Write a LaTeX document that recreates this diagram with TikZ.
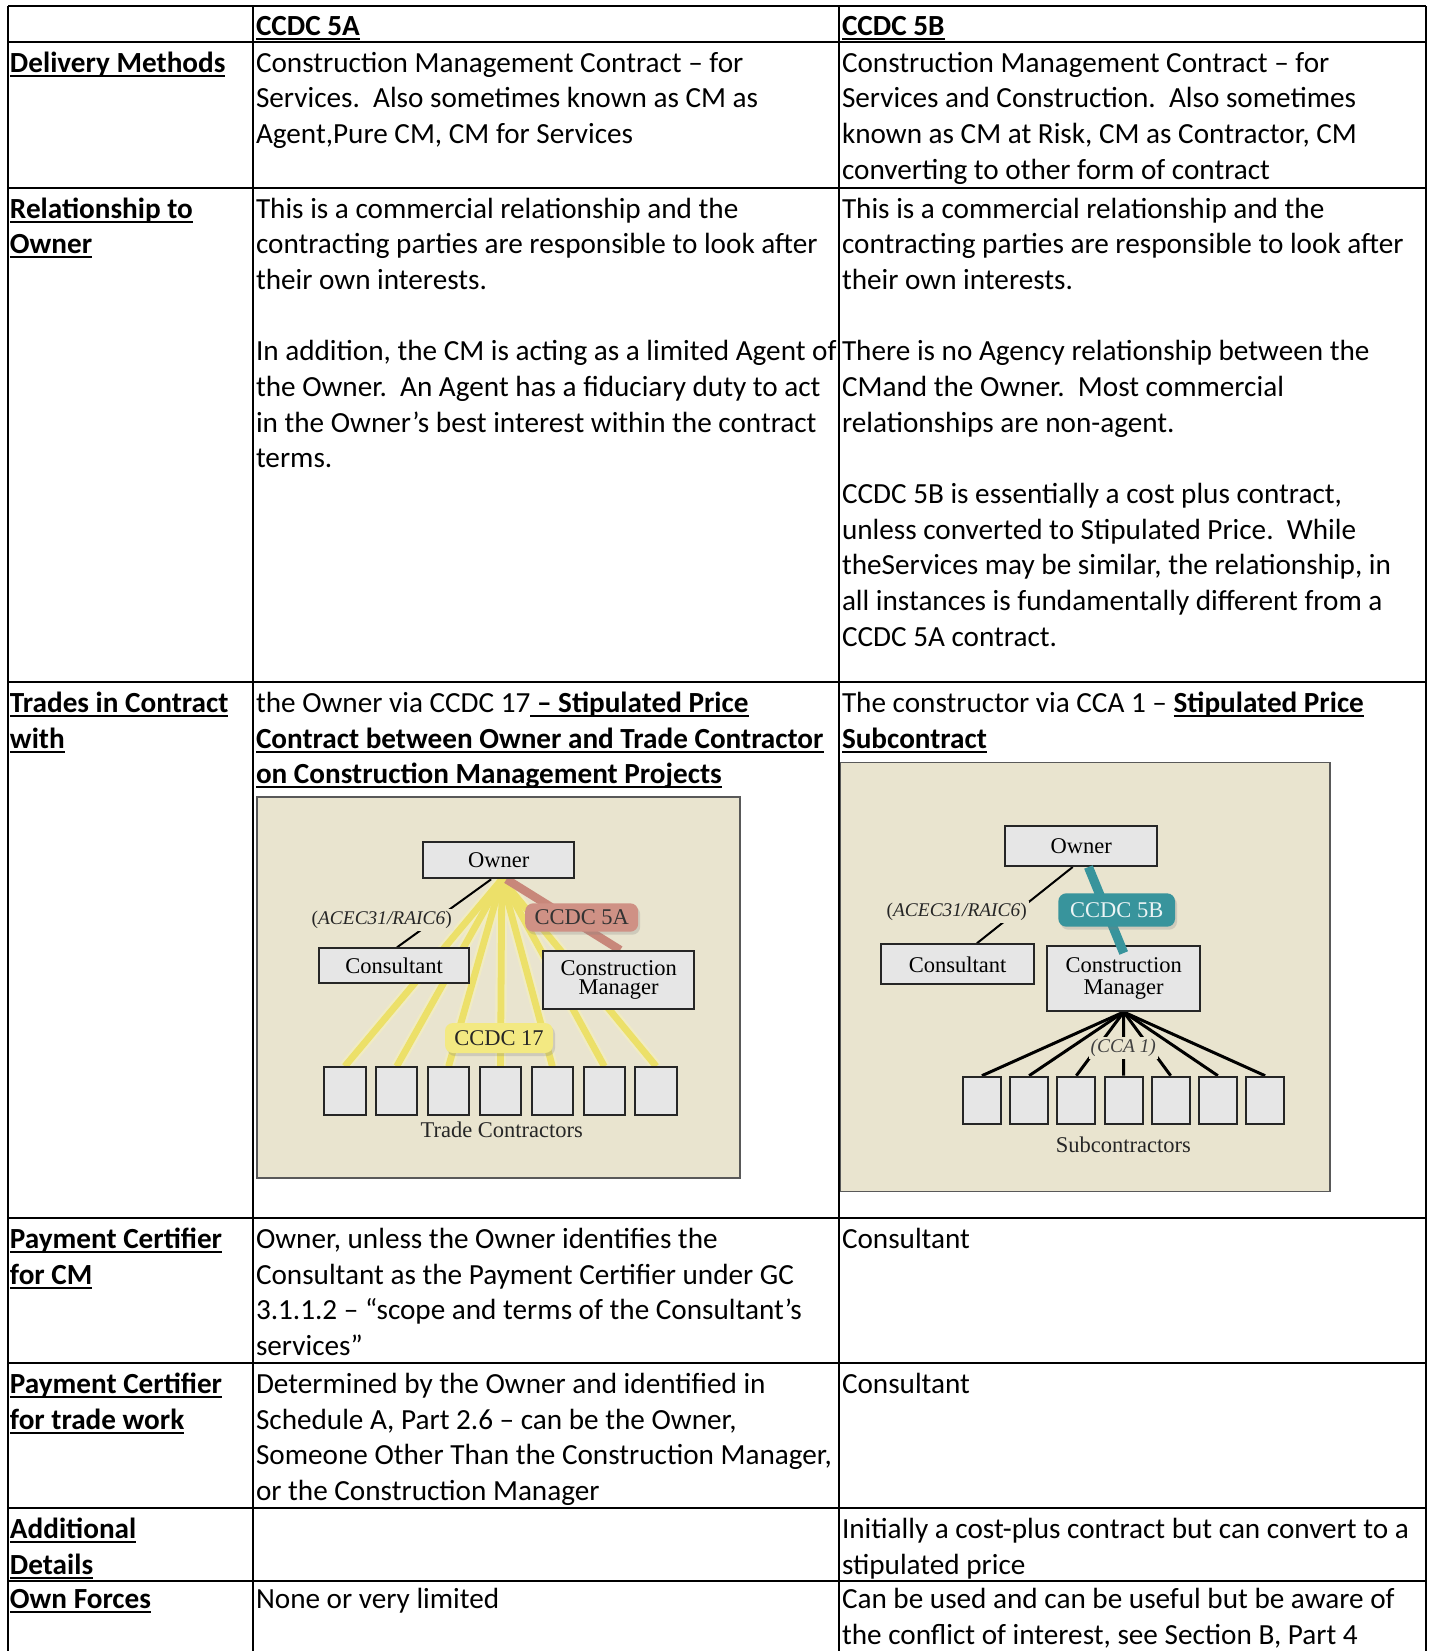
\documentclass[tikz,border=0pt]{standalone}
\usepackage{fontspec}
\setmainfont{Carlito}
\newfontfamily\tms{Liberation Serif}
\usetikzlibrary{calc,shadows}
\pgfdeclarelayer{bg}
\pgfdeclarelayer{lines}
\pgfsetlayers{bg,lines,main}
\definecolor{beige}{RGB}{233,228,207}
\definecolor{boxgray}{RGB}{230,230,230}
\definecolor{yellowln}{RGB}{236,224,105}
\definecolor{yellowlab}{RGB}{243,233,130}
\definecolor{pinkln}{RGB}{200,135,122}
\definecolor{pinklab}{RGB}{207,145,133}
\definecolor{tealc}{RGB}{56,148,156}
\newcommand\ulbox[1]{\setbox0\hbox{#1}\rlap{\rule[-2.2pt]{\wd0}{0.9pt}}\box0}
\newcommand\bul[1]{{\bfseries\ulbox{#1}}}
\newcommand\cellrows[4]{\foreach \lt [count=\k from 0] in {#4}{\node[txt] (#1\k) at (#2,{#3+2+\k*35.65}) {\lt};}}
\begin{document}
\begin{tikzpicture}[x=0.5pt,y=-0.5pt,
  txt/.style={anchor=base west, inner sep=0pt, outer sep=0pt, font=\fontsize{14.6}{17.8}\selectfont},
  tline/.style={line width=1.1pt, black},
  frame/.style={draw=black!65, line width=0.7pt, fill=beige},
  dbox/.style={draw=black!85, line width=1pt, fill=boxgray, inner sep=0pt, align=center, font=\tms\fontsize{11.25}{9.8}\selectfont},
  dlab/.style={inner sep=1pt, fill=beige, text=black!85, font=\tms\fontsize{9.7}{11}\selectfont},
  dtxt/.style={inner sep=0pt, text=black!85, font=\tms\fontsize{11.25}{12}\selectfont},
  tag/.style={rounded corners=4pt, inner sep=0pt, font=\tms\fontsize{11.25}{12}\selectfont, drop shadow={opacity=0.25, shadow xshift=1pt, shadow yshift=-1.5pt}},
  yline/.style={line width=3.4pt, yellowln},
  yglow/.style={line width=5.6pt, yellowln!45, opacity=0.6},
  pline/.style={line width=4.2pt, pinkln},
  thinl/.style={line width=1pt, black},
  subl/.style={line width=1.5pt, black}]
\useasboundingbox (0,0) rectangle (1433,1651);

% ---------- table grid ----------
\foreach \yy in {6,41.7,187.7,682,1218,1363,1508,1581}
  \draw[tline] (8,\yy) -- (1426,\yy);
\foreach \xx in {8,253,839,1426}
  \draw[tline] (\xx,6) -- (\xx,1651);

% ---------- header ----------
\node[txt] (h1) at (256,35.5) {\bul{CCDC 5A}};
\node[txt] (h2) at (842,35.5) {\bul{CCDC 5B}};

% ---------- Delivery Methods ----------
\cellrows{da}{10}{70.2}{{\bul{Delivery Methods}}}
\cellrows{db}{256}{70.2}{{Construction Management Contract – for},{Services.\ \ Also sometimes known as CM as},{Agent,Pure CM, CM for Services}}
\cellrows{dc}{842}{70.2}{{Construction Management Contract – for},{Services and Construction.\ \ Also sometimes},{known as CM at Risk, CM as Contractor, CM},{converting to other form of contract}}

% ---------- Relationship ----------
\cellrows{ra}{10}{216.2}{{\bul{Relationship to}},{\bul{Owner}}}
\cellrows{rb}{256}{216.2}{{This is a commercial relationship and the},{contracting parties are responsible to look after},{their own interests.}}
\cellrows{rbb}{256}{358.8}{{In addition, the CM is acting as a limited Agent of},{the Owner.\ \ An Agent has a fiduciary duty to act},{in the Owner’s best interest within the contract},{terms.}}
\cellrows{rc}{842}{216.2}{{This is a commercial relationship and the},{contracting parties are responsible to look after},{their own interests.}}
\cellrows{rcb}{842}{358.8}{{There is no Agency relationship between the},{CMand the Owner.\ \ Most commercial},{relationships are non-agent.}}
\cellrows{rcc}{842}{501.4}{{CCDC 5B is essentially a cost plus contract,},{unless converted to Stipulated Price.\ \ While},{theServices may be similar, the relationship, in},{all instances is fundamentally different from a},{CCDC 5A contract.}}

% ---------- Trades ----------
\cellrows{ta}{10}{710.5}{{\bul{Trades in Contract}},{\bul{with}}}
\cellrows{tb}{256}{710.5}{{the Owner via CCDC 17\bul{\ – Stipulated Price}},{\bul{Contract between Owner and Trade Contractor}},{\bul{on Construction Management Projects}}}
\cellrows{tcx}{842}{710.5}{{The constructor via CCA 1 – \bul{Stipulated Price}},{\bul{Subcontract}}}

% ---------- Payment certifier CM ----------
\cellrows{pa}{10}{1246.5}{{\bul{Payment Certifier}},{\bul{for CM}}}
\cellrows{pb}{256}{1246.5}{{Owner, unless the Owner identifies the},{Consultant as the Payment Certifier under GC},{3.1.1.2 – “scope and terms of the Consultant’s},{services”}}
\cellrows{pc}{842}{1246.5}{{Consultant}}

% ---------- Payment certifier trade ----------
\cellrows{qa}{10}{1391.5}{{\bul{Payment Certifier}},{\bul{for trade work}}}
\cellrows{qb}{256}{1391.5}{{Determined by the Owner and identified in},{Schedule A, Part 2.6 – can be the Owner,},{Someone Other Than the Construction Manager,},{or the Construction Manager}}
\cellrows{qc}{842}{1391.5}{{Consultant}}

% ---------- Additional ----------
\cellrows{aa}{10}{1536.5}{{\bul{Additional}},{\bul{Details}}}
\cellrows{ac}{842}{1536.5}{{Initially a cost-plus contract but can convert to a},{stipulated price}}

% ---------- Own forces ----------
\cellrows{oa}{10}{1606.5}{{\bul{Own Forces}}}
\cellrows{ob}{256}{1606.5}{{None or very limited}}
\cellrows{oc}{842}{1606.5}{{Can be used and can be useful but be aware of},{the conflict of interest, see Section B, Part 4}}

% ---------- diagram frames ----------
\begin{pgfonlayer}{bg}
\draw[frame] (257,797) rectangle (740,1178);
\draw[frame] (840,762.3) rectangle (1330,1191.7);
\end{pgfonlayer}

% ---------- diagram 1 (CCDC 5A) ----------
\node[dbox, minimum width=75.5pt, minimum height=18pt] (own1) at (498.8,860.3) {Owner};
\node[dbox, minimum width=75.3pt, minimum height=17.5pt] (con1) at (394,965.8) {Consultant};
\node[dbox, minimum width=75.35pt, minimum height=29pt] (cm1) at (618.7,980) {Construction\\Manager};
\foreach \i in {0,...,6}
  \node[dbox, minimum width=20.75pt, minimum height=23.85pt] (tc\i) at ({344.8+\i*51.9},1091.2) {};
\node[dtxt] (tcl) at (501.7,1130) {Trade Contractors};
\begin{pgfonlayer}{lines}
\draw[thinl] ($(own1.south west)!0.45!(own1.south east)$) -- ($(con1.north west)!0.52!(con1.north east)$);
\foreach \i in {0,...,6}
  \draw[yglow] ($(own1.south west)!0.52!(own1.south east)$) -- (tc\i.north);
\foreach \i in {0,...,6}
  \draw[yline] ($(own1.south west)!0.52!(own1.south east)$) -- (tc\i.north);
\draw[pline] ($(own1.south west)!0.55!(own1.south east)$) -- ($(cm1.north west)!0.51!(cm1.north east)$);
\end{pgfonlayer}
\node[dlab] (acec1) at (381.7,920) {(\textit{ACEC31/RAIC6})};
\node[tag, fill=pinklab, text=black!80, minimum width=56.5pt, minimum height=14.2pt] (t5a) at (581.7,917.5) {CCDC 5A};
\node[tag, fill=yellowlab, text=black!85, minimum width=54pt, minimum height=15pt] (t17) at (499,1038) {CCDC 17};

% ---------- diagram 2 (CCDC 5B) ----------
\node[dbox, minimum width=76.15pt, minimum height=20pt] (own2) at (1081.2,846) {Owner};
\node[dbox, minimum width=76.5pt, minimum height=20pt] (con2) at (957.5,964.3) {Consultant};
\node[dbox, minimum width=76.35pt, minimum height=32.5pt, font=\tms\fontsize{11.25}{10.8}\selectfont] (cm2) at (1123.7,978.5) {Construction\\Manager};
\foreach \i in {0,...,6}
  \node[dbox, minimum width=19pt, minimum height=23.8pt] (sc\i) at ({981.9+\i*47.2},1100.5) {};
\node[dtxt] (scl) at (1123.3,1145) {Subcontractors};
\begin{pgfonlayer}{lines}
\draw[thinl] ($(own2.south west)!0.445!(own2.south east)$) -- ($(con2.north west)!0.625!(con2.north east)$);
\foreach \i in {0,...,6}
  \draw[subl] (cm2.south) -- (sc\i.north);
\end{pgfonlayer}
\draw[line width=4.6pt, tealc] ($(own2.south west)!0.547!(own2.south east)$) -- ($(cm2.north)+(0,8)$);
\node[dlab] (acec2) at (956.7,911.7) {(\textit{ACEC31/RAIC6})};
\node[dlab, text=black!75, minimum height=11pt, font=\tms\itshape\fontsize{9.7}{11}\selectfont] (cca) at (1123.3,1048.3) {(CCA 1)};
\node[tag, fill=tealc, text=white!90!tealc, minimum width=58.35pt, minimum height=16.7pt] (t5b) at (1116.7,910) {CCDC 5B};
\end{tikzpicture}
\end{document}
